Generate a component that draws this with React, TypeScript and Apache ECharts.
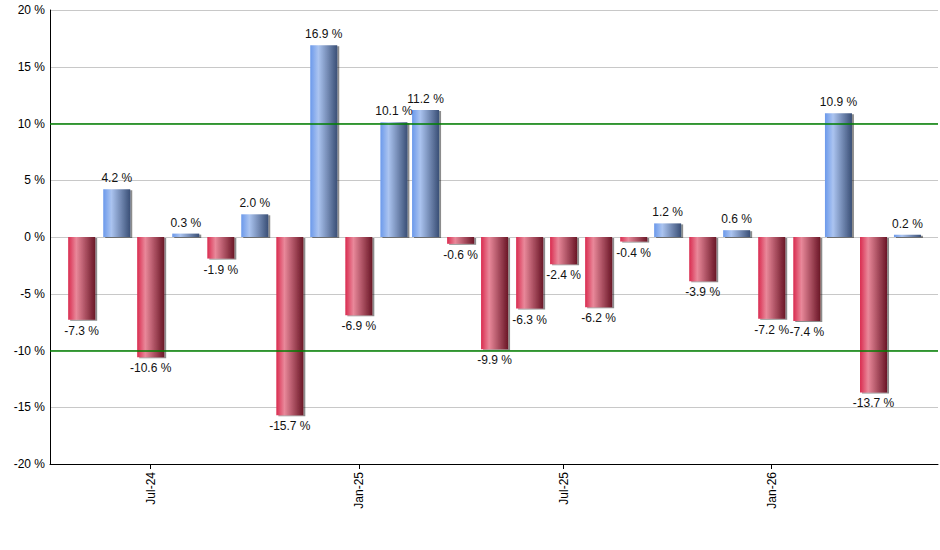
import React, { useEffect, useRef } from "react";
import * as echarts from "echarts";

// monthly returns, one bar per month starting May-24
const startYear = 2024;
const startMonth = 4; // May (0-based)
const returns = [
	-7.3, 4.2, -10.6, 0.3, -1.9, 2.0, -15.7, 16.9, -6.9, 10.1, 11.2, -0.6, -9.9,
	-6.3, -2.4, -6.2, -0.4, 1.2, -3.9, 0.6, -7.2, -7.4, 10.9, -13.7, 0.2,
];
const tickMonths = [
	[2024, 6],
	[2025, 0],
	[2025, 6],
	[2026, 0],
];
const monthNames = ["Jan", "Feb", "Mar", "Apr", "May", "Jun", "Jul", "Aug", "Sep", "Oct", "Nov", "Dec"];
const limitLines = [10, -10];

const DAY = 86400000;

const redFill = new echarts.graphic.LinearGradient(0, 0, 1, 0, [
	{ offset: 0, color: "#d92b4f" },
	{ offset: 0.3, color: "#e9889a" },
	{ offset: 1, color: "#6a1626" },
]);
const blueFill = new echarts.graphic.LinearGradient(0, 0, 1, 0, [
	{ offset: 0, color: "#6b99eb" },
	{ offset: 0.3, color: "#abc4f0" },
	{ offset: 1, color: "#3a4f76" },
]);

const App = () => {
	const chartRef = useRef<HTMLDivElement>(null);

	useEffect(() => {
		if (!chartRef.current) return;
		const chart = echarts.init(chartRef.current, null, { renderer: "svg" });

		const barData = returns.map((v, i) => {
			const t = Date.UTC(startYear, startMonth + i, 1);
			return {
				value: [t, v],
				itemStyle: { color: v < 0 ? redFill : blueFill },
				label: { position: v < 0 ? "bottom" : "top" },
			};
		});
		const first = Date.UTC(startYear, startMonth, 1);
		const last = Date.UTC(startYear, startMonth + returns.length - 1, 1);
		const ticks = tickMonths.map(([y, m]) => Date.UTC(y, m, 1));

		const fmtMonth = (v: number) => {
			const d = new Date(v);
			return monthNames[d.getUTCMonth()] + "-" + String(d.getUTCFullYear()).slice(2);
		};

		chart.setOption({
			animation: false,
			textStyle: { fontFamily: "Liberation Sans, Arial, sans-serif" },
			grid: { left: 50, right: 2, top: 10, bottom: 86 },
			xAxis: {
				type: "value",
				min: first - 28 * DAY,
				max: last + 27 * DAY,
				axisLine: { show: true, onZero: false, lineStyle: { color: "#000", width: 1 } },
				axisTick: { show: true, customValues: ticks, length: 5, lineStyle: { color: "#000" } },
				axisLabel: {
					customValues: ticks,
					rotate: 90,
					color: "#000",
					fontSize: 12,
					margin: 8,
					formatter: fmtMonth,
				},
				splitLine: { show: false },
			},
			yAxis: {
				type: "value",
				min: -20,
				max: 20,
				interval: 5,
				axisLine: { show: true, lineStyle: { color: "#000", width: 1 } },
				axisTick: { show: false },
				axisLabel: { color: "#000", fontSize: 12, margin: 5, formatter: (v: number) => v + " %" },
				splitLine: { show: true, lineStyle: { color: "#c8c8c8", width: 1 } },
			},
			series: [
				{
					type: "bar",
					barWidth: 27,
					data: barData,
					itemStyle: {
						shadowColor: "rgba(0,0,0,0.45)",
						shadowOffsetX: 2,
						shadowOffsetY: 1,
						shadowBlur: 1,
					},
					label: {
						show: true,
						color: "#111",
						fontSize: 12,
						distance: 5,
						formatter: (p: any) => p.value[1].toFixed(1) + " %",
					},
					markLine: {
						silent: true,
						symbol: "none",
						label: { show: false },
						lineStyle: { color: "#008000", type: "solid", width: 1.5 },
						data: limitLines.map((y) => ({ yAxis: y })),
					},
				},
			],
		});

		return () => chart.dispose();
	}, []);

	return (
		<div
			ref={chartRef}
			style={{ position: "absolute", left: 0, top: 0, width: "940px", height: "550px" }}
		/>
	);
};

export default App;
